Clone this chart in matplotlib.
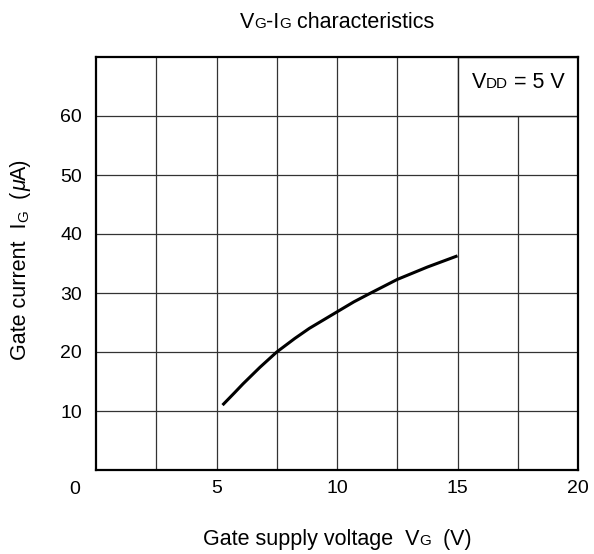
import numpy as np
import matplotlib
matplotlib.use('Agg')
import matplotlib.pyplot as plt
from matplotlib.patches import Rectangle

plt.rcParams['font.family'] = ['Liberation Sans', 'DejaVu Sans']

# curve
vg = [5.25, 5.75, 6.1, 6.8, 7.5, 8.25, 8.85, 10.0, 10.7, 11.4, 12.5, 13.75, 15.0]
ig = [11.0, 13.1, 14.6, 17.4, 20.0, 22.3, 24.0, 26.8, 28.5, 30.0, 32.3, 34.4, 36.3]

x_labels = ['5', '10', '15', '20']
x_label_pos = [5, 10, 15, 20]
y_labels = ['10', '20', '30', '40', '50', '60']
y_label_pos = [10, 20, 30, 40, 50, 60]

BIG = 15.5
SMALL = 11
TICK = 14

W, H = 594, 554
fig = plt.figure(figsize=(W / 100, H / 100), dpi=100)
ax = fig.add_axes([96 / W, 1 - 470 / H, 482 / W, 413 / H])
ax.set_xlim(0, 20)
ax.set_ylim(0, 70)

# grid
for x in np.arange(2.5, 20, 2.5):
    top = 60 if x > 15 else 70
    ax.plot([x, x], [0, top], color='#333333', lw=0.9, zorder=1)
for y in np.arange(10, 70, 10):
    ax.plot([0, 20], [y, y], color='#333333', lw=0.9, zorder=1)

ax.add_patch(Rectangle((15, 60), 5, 10, facecolor='white', edgecolor='#222222', lw=1.0, zorder=2))

ax.plot(vg, ig, color='black', lw=2.2, zorder=3, solid_capstyle='butt', solid_joinstyle='round')

for s in ax.spines.values():
    s.set_linewidth(1.6)
ax.tick_params(length=0, labelsize=TICK)
ax.tick_params(axis='y', pad=10)
ax.tick_params(axis='x', pad=7)
ax.set_xticks(x_label_pos)
ax.set_xticklabels(x_labels)
ax.set_yticks(y_label_pos)
ax.set_yticklabels(y_labels)

fig.text(75 / W, 1 - 489 / H, '0', fontsize=TICK, ha='center', va='center')

fig.canvas.draw()
renderer = fig.canvas.get_renderer()


def run_text(pieces, center, y0, rotated=False):
    # pieces: list of (string, size, style); center/y0 in pixels from top-left
    texts = []
    for s, size, style in pieces:
        if rotated:
            t = fig.text(y0 / W, 0.5, s, fontsize=size, style=style,
                         rotation=90, ha='right', va='bottom')
        else:
            t = fig.text(0.5, 1 - y0 / H, s, fontsize=size, style=style,
                         ha='left', va='baseline')
        texts.append(t)
    sizes = []
    for t in texts:
        ext = t.get_window_extent(renderer)
        sizes.append(ext.height if rotated else ext.width)
    total = sum(sizes)
    if rotated:
        pos = center + total / 2
        for t, d in zip(texts, sizes):
            t.set_y(1 - pos / H)
            pos -= d
    else:
        pos = center - total / 2
        for t, d in zip(texts, sizes):
            t.set_x(pos / W)
            pos += d


run_text([('V', BIG, 'normal'), ('G', SMALL, 'normal'), ('-I', BIG, 'normal'),
          ('G', SMALL, 'normal'), (' characteristics', BIG, 'normal')], 337, 28)
run_text([('Gate supply voltage  V', BIG, 'normal'), ('G', SMALL, 'normal'),
          ('  (V)', BIG, 'normal')], 337, 545)
run_text([('V', BIG, 'normal'), ('DD', SMALL, 'normal'), (' = 5 V', BIG, 'normal')], 518, 88)
run_text([('Gate current  I', BIG, 'normal'), ('G', SMALL, 'normal'), ('  (', BIG, 'normal'),
          ('\u03bc', BIG, 'italic'), ('A)', BIG, 'normal')], 259, 31, rotated=True)

fig.savefig('out.png', dpi=100)
